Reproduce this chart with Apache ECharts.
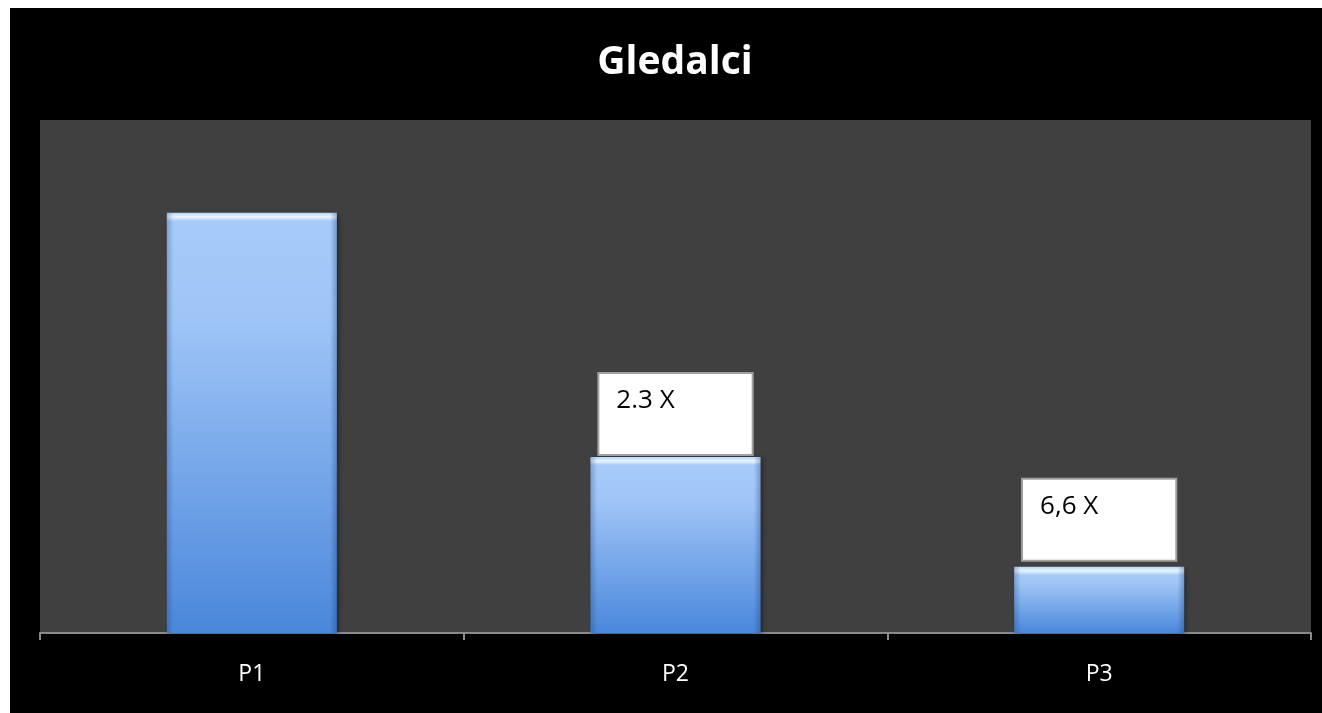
<!DOCTYPE html>
<html>
<head>
<meta charset="utf-8">
<script src="https://cdn.jsdelivr.net/npm/echarts@6/dist/echarts.min.js"></script>
<style>
html,body{margin:0;padding:0;background:#fff;width:1322px;height:713px;overflow:hidden;}
#c{position:absolute;left:10px;top:8px;width:1312px;height:705px;background:#000;}
</style>
</head>
<body>
<div id="c"></div>
<script>
const titleText = 'Gledalci';
const categories = ['P1', 'P2', 'P3'];
const values = [81.9, 34.3, 12.9];
const boxLabels = ['', '2.3 X', '6,6 X'];
const yMax = 100;
const labelGaps = [0, 3, 7];

const chart = echarts.init(document.getElementById('c'));

function barColor(v) {
  const f = Math.min(0.5, 1.6 / v);
  return {
    type: 'linear', x: 0, y: 0, x2: 0, y2: 1,
    colorStops: [
      { offset: 0, color: '#b9d9ff' },
      { offset: f * 0.5, color: '#e8f5ff' },
      { offset: f, color: '#a6cbfa' },
      { offset: 0.25, color: '#9fc5f7' },
      { offset: 1, color: '#4a87da' }
    ]
  };
}

const edgeShade = {
  type: 'linear', x: 0, y: 0, x2: 1, y2: 0,
  colorStops: [
    { offset: 0, color: 'rgba(20,50,110,0.28)' },
    { offset: 0.04, color: 'rgba(20,50,110,0)' },
    { offset: 0.96, color: 'rgba(20,50,110,0)' },
    { offset: 1, color: 'rgba(20,50,110,0.32)' }
  ]
};

chart.setOption({
  backgroundColor: '#000',
  animation: false,
  title: {
    text: titleText,
    left: 660,
    textAlign: 'center',
    top: 30,
    textStyle: { color: '#fff', fontFamily: 'Open Sans', fontWeight: 'bold', fontSize: 39 }
  },
  grid: {
    left: 30, right: 11, top: 112, bottom: 80,
    show: true, backgroundColor: '#404040', borderWidth: 0
  },
  xAxis: {
    type: 'category',
    data: categories,
    boundaryGap: true,
    axisLine: { lineStyle: { color: '#8a8a8a', width: 2 } },
    axisTick: { show: true, length: 7, lineStyle: { color: '#8a8a8a', width: 2 } },
    axisLabel: { color: '#fff', fontFamily: 'Open Sans', fontSize: 23, margin: 30 }
  },
  yAxis: {
    type: 'value', min: 0, max: yMax, show: false,
    splitLine: { show: false }
  },
  series: [{
    type: 'bar',
    barWidth: 170,
    data: values.map((v, i) => ({
      value: v,
      itemStyle: {
        color: barColor(v),
        shadowColor: 'rgba(0,0,0,0.45)', shadowBlur: 5, shadowOffsetX: 2, shadowOffsetY: 1
      },
      label: {
        show: boxLabels[i] !== '',
        position: 'top',
        distance: labelGaps[i],
        formatter: boxLabels[i],
        color: '#000',
        fontFamily: 'Open Sans',
        fontSize: 26,
        lineHeight: 30,
        backgroundColor: '#fff',
        borderColor: '#a0a0a0',
        borderWidth: 2,
        padding: [12, 77, 38, 17]
      }
    }))
  }, {
    type: 'bar',
    barWidth: 170,
    barGap: '-100%',
    silent: true,
    z: 3,
    data: values,
    itemStyle: { color: edgeShade }
  }]
});
</script>
</body>
</html>
